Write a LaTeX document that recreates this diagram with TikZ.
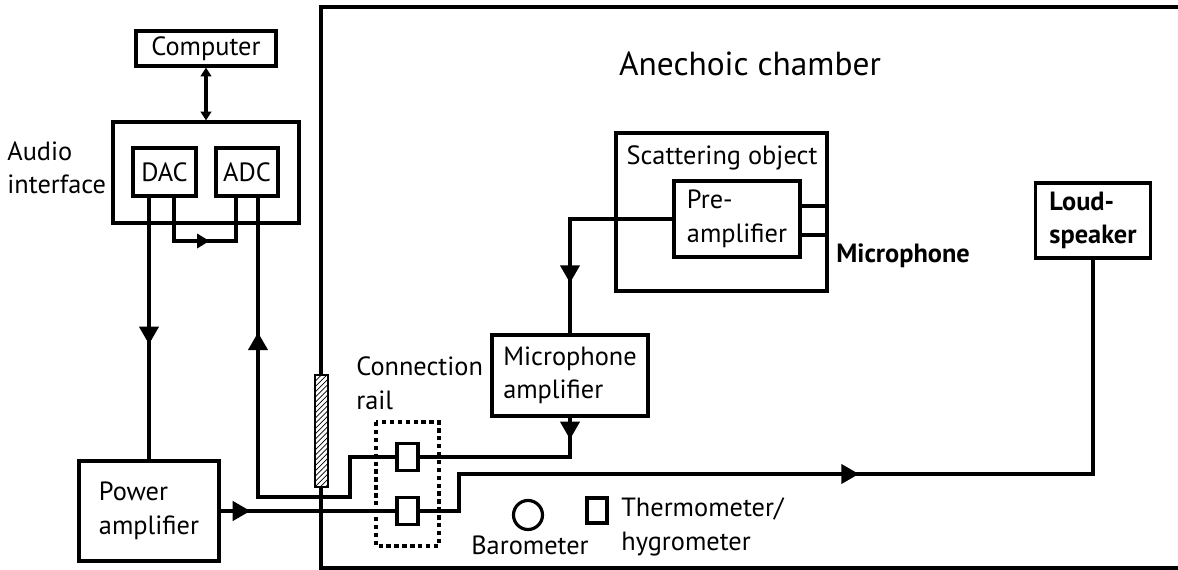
\documentclass[tikz,border=0pt]{standalone}
\usepackage{fontspec}
\setmainfont{PT Sans}
\usetikzlibrary{arrows.meta,decorations.markings,patterns}

\begin{document}
\begin{tikzpicture}[x=0.02cm,y=-0.02cm,font=\fontsize{15}{19}\selectfont,
    box/.style={draw,line width=1.8pt,align=left,inner sep=0pt},
    wire/.style={line width=1.8pt},
    arrowat/.style={decoration={markings,mark=at position #1 with {\arrow{Triangle[width=11pt,length=10pt]}}},postaction={decorate}},
    smallarrowat/.style={decoration={markings,mark=at position #1 with {\arrow{Triangle[width=8pt,length=7pt]}}},postaction={decorate}}]
    \useasboundingbox (0,0) rectangle (1178,570);
    \draw[line width=2.2pt] (321,7) rectangle (1200,568);
    \node[font=\fontsize{19}{23}\selectfont] (title) at (750,64) {Anechoic chamber};

    \node[box,minimum width=2.8cm,minimum height=0.7cm] (computer) at (206,48.5) {Computer};
    \node[box,minimum width=3.72cm,minimum height=2.02cm] (audio) at (206,172.5) {};
    \node[box,minimum width=1.26cm,minimum height=0.96cm] (dac) at (164.5,172) {DAC};
    \node[box,minimum width=1.24cm,minimum height=0.96cm] (adc) at (247,172) {ADC};
    \node[anchor=west,align=left,inner sep=0pt] (audiolab) at (7,168) {Audio\\interface};
    \node[box,minimum width=2.8cm,minimum height=2cm] (pamp) at (149,511) {Power\\amplifier};

    \node[box,minimum width=0.42cm,minimum height=0.54cm] (conup) at (407.5,457) {};
    \node[box,minimum width=0.42cm,minimum height=0.54cm] (condn) at (407.5,511) {};
    \draw[line width=1.8pt,dash pattern=on 2.5pt off 2pt] (376,422) rectangle (439,546);
    \node[anchor=south west,align=left,inner sep=0pt] (raillab) at (356,410) {Connection\\rail};

    \node[box,minimum width=3.12cm,minimum height=1.62cm] (micamp) at (570,375.5) {Microphone\\amplifier};
    \draw[line width=1.8pt] (616,133) rectangle (827,291);
    \node (scatlab) at (722,158) {Scattering object};
    \node[box,minimum width=2.52cm,minimum height=1.52cm] (preamp) at (737,219) {Pre-\\amplifier};
    \node[box,minimum width=0.54cm,minimum height=0.58cm] (mic) at (813.5,220.5) {};
    \node[anchor=west,inner sep=0pt,font=\fontsize{15}{19}\selectfont\bfseries] (miclab) at (836,256) {Microphone};
    \node[box,minimum width=2.3cm,minimum height=1.5cm,font=\fontsize{15}{19}\selectfont\bfseries] (speaker) at (1093,220.5) {Loud-\\speaker};

    \draw[line width=1.8pt] (528,515) circle[radius=0.29cm];
    \node (barolab) at (530,545) {Barometer};
    \draw[line width=1.8pt] (587,498) rectangle (607,523);
    \node[anchor=west,align=left,inner sep=0pt] (thermolab) at (621,527) {Thermometer/\\hygrometer};

    \coordinate (loopa) at (174,241);
    \coordinate (loopb) at (236,241);
    \coordinate (retr) at (350,497);
    \coordinate (retl) at (258,497);
    \coordinate (spk) at (459,474);

    \draw[wire,{Triangle[width=6pt,length=5pt]}-{Triangle[width=6pt,length=5pt]}] (computer) -- (audio);
    \draw[wire,arrowat=0.56] (dac.south -| pamp.north) -- (pamp.north);
    \draw[wire,smallarrowat=0.53] (dac.south -| loopa) -- (loopa) -- (loopb) -- (adc.south -| loopb);
    \draw[wire,arrowat=0.717] (conup.west) -| (retr) -- (retl) -- (adc.south -| retl);
    \draw[wire,arrowat=0.17] (pamp.east) -- (condn.west);
    \draw[wire,arrowat=0.515] (condn.east) -| (spk) -| (speaker.south);
    \draw[wire,arrowat=0.767] (preamp.west) -| (micamp.north);
    \draw[wire,arrowat=0.114] (micamp.south) |- (conup.east);

    \draw[line width=1.4pt,fill=white,postaction={pattern=north east lines}] (315,375) rectangle (328,487);
\end{tikzpicture}
\end{document}
